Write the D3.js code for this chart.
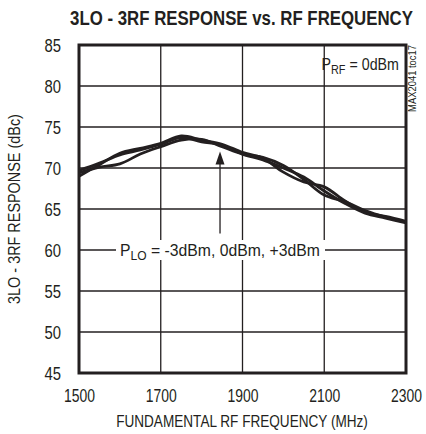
<!DOCTYPE html>
<html>
<head>
<meta charset="utf-8">
<script src="https://cdn.jsdelivr.net/npm/d3@7"></script>
<style>
  html, body { margin: 0; padding: 0; background: #fff; }
  svg { display: block; }
  text { font-family: "Liberation Sans", Arial, sans-serif; fill: #231f20; }
</style>
</head>
<body>
<div id="chart"></div>
<script>
// ---- data ----
const freqs = [1500,1550,1600,1650,1700,1750,1800,1850,1900,1950,2000,2050,2100,2150,2200,2250,2300];
const respM3 = [69.0,70.4,71.8,72.4,73.0,73.9,73.4,72.9,71.9,71.2,69.5,68.3,67.7,66.0,64.6,64.1,63.5];
const resp0  = [69.4,70.1,70.5,71.7,72.6,73.4,73.5,72.6,71.7,71.3,70.3,68.6,66.7,65.9,64.8,64.0,63.4];
const respP3 = [69.7,70.6,71.6,72.2,72.9,73.7,73.2,72.8,71.7,71.0,70.0,68.9,67.2,65.7,64.5,63.9,63.3];
const xTicks = [1500,1700,1900,2100,2300];
const yTicks = [45,50,55,60,65,70,75,80,85];
const titleText = "3LO - 3RF RESPONSE vs. RF FREQUENCY";
const xLabel = "FUNDAMENTAL RF FREQUENCY (MHz)";
const yLabel = "3LO - 3RF RESPONSE (dBc)";
const arrowFreq = 1845, arrowFrom = 62.0, arrowTo = 72.0;
const legendValue = 60;

const W = 426, H = 434;
const m = {left: 79, right: 406, top: 45, bottom: 373};
const ink = "#231f20";

const svg = d3.select("#chart").append("svg").attr("width", W).attr("height", H);

const x = d3.scaleLinear().domain([1500, 2300]).range([m.left, m.right]);
const y = d3.scaleLinear().domain([45, 85]).range([m.bottom, m.top]);

// place a text at (px,py) [optionally rotated], squeezed horizontally to a target width
function squeeze(sel, px, py, len, rot) {
  sel.each(function() {
    const w = this.getComputedTextLength();
    const s = w > 0 ? len / w : 1;
    d3.select(this).attr("x", 0).attr("y", 0)
      .attr("transform", `translate(${px},${py})` + (rot ? ` rotate(${rot})` : "") + ` scale(${s},1)`);
  });
  return sel;
}

// grid
svg.append("g").selectAll("line").data(xTicks.slice(1, -1)).join("line")
  .attr("x1", d => x(d)).attr("x2", d => x(d)).attr("y1", m.top).attr("y2", m.bottom)
  .attr("stroke", ink).attr("stroke-width", 1.3);
svg.append("g").selectAll("line").data(yTicks.slice(1, -1)).join("line")
  .attr("x1", m.left).attr("x2", m.right).attr("y1", d => y(d)).attr("y2", d => y(d))
  .attr("stroke", ink).attr("stroke-width", 1.3);

// legend label with gap in the 60 line
const legG = svg.append("g");
const ly = y(legendValue);
legG.append("rect").attr("x", 116).attr("y", ly - 10).attr("width", 209).attr("height", 20).attr("fill", "#fff");

// curves
const line = d3.line().x((d, i) => x(freqs[i])).y(d => y(d)).curve(d3.curveCatmullRom.alpha(0.5));
[respM3, resp0, respP3].forEach(s => {
  svg.append("path").datum(s).attr("d", line)
    .attr("fill", "none").attr("stroke", ink).attr("stroke-width", 2.8).attr("stroke-linejoin", "round");
});

// legend text
const lt = legG.append("text").attr("font-size", 17);
lt.append("tspan").text("P");
lt.append("tspan").attr("font-size", 13).attr("dy", 4).text("LO");
lt.append("tspan").attr("dy", -4).text(" = -3dBm, 0dBm, +3dBm");
squeeze(lt, 120, ly + 5.5, 200);

// arrow
const ax = x(arrowFreq), at = y(arrowTo);
svg.append("line").attr("x1", ax).attr("x2", ax)
  .attr("y1", y(arrowFrom)).attr("y2", at + 10).attr("stroke", ink).attr("stroke-width", 1.3);
svg.append("path").attr("d", `M${ax},${at} L${ax - 4.5},${at + 13} L${ax + 4.5},${at + 13} Z`).attr("fill", ink);

// PRF label
const pr = svg.append("g");
pr.append("rect").attr("x", 328).attr("y", 52).attr("width", 74).attr("height", 24).attr("fill", "#fff");
const pt = pr.append("text").attr("font-size", 17);
pt.append("tspan").text("P");
pt.append("tspan").attr("font-size", 13).attr("dy", 4).text("RF");
pt.append("tspan").attr("dy", -4).text(" = 0dBm");
squeeze(pt, 321.5, 69.5, 77.5);

// frame
svg.append("rect").attr("x", m.left).attr("y", m.top).attr("width", m.right - m.left).attr("height", m.bottom - m.top)
  .attr("fill", "none").attr("stroke", ink).attr("stroke-width", 3);

// axes labels via d3 axes
const xAxis = svg.append("g").attr("transform", `translate(0,${m.bottom})`)
  .call(d3.axisBottom(x).tickValues(xTicks).tickSize(0).tickPadding(0).tickFormat(d3.format("d")));
xAxis.select(".domain").remove();
xAxis.selectAll("text").attr("dy", null).attr("font-size", 17.5).attr("fill", ink)
  .style("font-family", "'Liberation Sans', Arial, sans-serif")
  .each(function() { squeeze(d3.select(this), 0, 29, 31); });

const yAxis = svg.append("g").attr("transform", `translate(${m.left},0)`)
  .call(d3.axisLeft(y).tickValues(yTicks).tickSize(0).tickPadding(0).tickFormat(d3.format("d")));
yAxis.select(".domain").remove();
yAxis.selectAll("text").attr("font-size", 17.5).attr("fill", ink)
  .style("font-family", "'Liberation Sans', Arial, sans-serif")
  .each(function() { squeeze(d3.select(this), -18, 6.2, 16.5); });
yAxis.selectAll("text").attr("dy", null);

// title
squeeze(svg.append("text").attr("text-anchor", "middle")
  .attr("font-size", 20).attr("font-weight", "bold").text(titleText), 241.5, 25, 343);

// x label
squeeze(svg.append("text").attr("text-anchor", "middle")
  .attr("font-size", 17).text(xLabel), 242, 427, 252);

// y label
squeeze(svg.append("text").attr("text-anchor", "middle")
  .attr("font-size", 17).text(yLabel), 19.5, (m.top + m.bottom) / 2, 190, -90);

// side code
squeeze(svg.append("text").attr("text-anchor", "end")
  .attr("font-size", 10).text("MAX2041 toc17"), 416, 45, 67, -90);
</script>
</body>
</html>
